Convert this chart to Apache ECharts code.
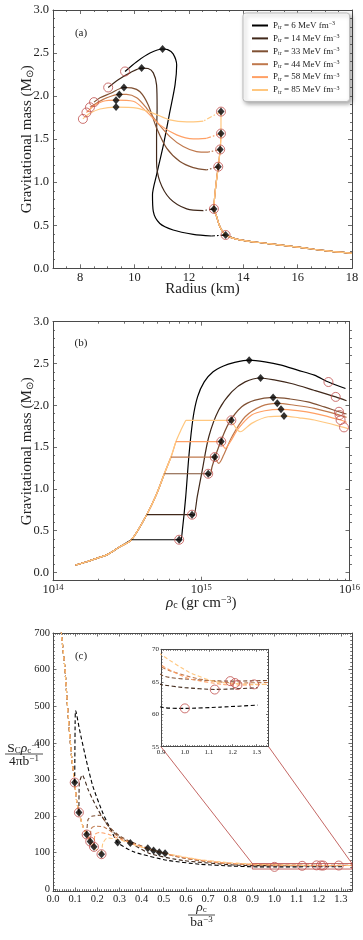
<!DOCTYPE html>
<html><head><meta charset="utf-8">
<script src="https://cdn.jsdelivr.net/npm/echarts@6.0.0/dist/echarts.min.js"></script>
<style>html,body{margin:0;padding:0;background:#fff}#c{width:363px;height:940px}</style>
</head><body><div id="c"></div><script>
// ---------------- DATA ----------------
const ptrValues = [6, 14, 33, 44, 58, 85];

// Panel (a): [radius (km), mass (Msun)]
const aHadronic = [[18.0,0.174],[17.0,0.205],[16.08,0.244],[14.86,0.29],[13.88,0.33],[13.35,0.387],[13.14,0.484],[13.02,0.60],[12.92,0.69],[12.98,0.93],[13.08,1.18],[13.15,1.38],[13.18,1.565],[13.18,1.82]];
const aTrans = [[13.35,0.387],[12.92,0.69],[13.08,1.18],[13.15,1.38],[13.18,1.565],[13.18,1.82]];
const aDip = [[12.83,0.375],[12.53,0.67],[12.65,1.143],[12.71,1.35],[12.65,1.51],[12.53,1.71]];
const aHyb6 = [[12.83,0.375],[12.16,0.395],[11.42,0.445],[10.93,0.52],[10.69,0.66],[10.66,0.85],[10.81,1.085],[11.06,1.43],[11.30,1.82],[11.49,2.13],[11.55,2.36],[11.42,2.49],[11.22,2.54],[11.03,2.547],[10.57,2.50],[10.08,2.40],[9.65,2.286]];
const aHyb14 = [[12.53,0.67],[11.92,0.69],[11.30,0.81],[10.93,1.01],[10.81,1.24],[10.81,1.55],[10.83,1.86],[10.81,2.13],[10.69,2.27],[10.50,2.32],[10.26,2.326],[9.83,2.27],[9.40,2.19],[9.03,2.10]];
const aHyb33 = [[12.65,1.143],[12.16,1.17],[11.67,1.24],[11.18,1.395],[10.81,1.63],[10.50,1.90],[10.20,2.05],[9.89,2.095],[9.61,2.10],[9.10,2.03],[8.73,1.98],[8.51,1.93]];
const aHyb44 = [[12.71,1.35],[12.28,1.356],[11.79,1.414],[11.30,1.53],[10.81,1.705],[10.44,1.86],[10.08,1.98],[9.71,2.02],[9.44,2.02],[8.97,1.98],[8.61,1.92],[8.36,1.87]];
const aHyb58 = [[12.65,1.51],[12.16,1.503],[11.55,1.55],[10.93,1.666],[10.44,1.82],[9.95,1.94],[9.32,1.953],[8.85,1.94],[8.48,1.88],[8.23,1.81]];
const aHyb85 = [[12.53,1.71],[11.92,1.70],[11.30,1.724],[10.69,1.80],[10.08,1.86],[9.32,1.872],[8.73,1.85],[8.36,1.80],[8.10,1.735]];
const aMax = [[11.03,2.547],[10.26,2.326],[9.61,2.10],[9.44,2.02],[9.32,1.953],[9.32,1.872]];
const aEnd = [[9.65,2.286],[9.03,2.10],[8.51,1.93],[8.36,1.87],[8.23,1.81],[8.10,1.735]];

// Panel (b): [log10 rho_c (g cm^-3), mass (Msun)]
const bHadronic = [[14.151,0.087],[14.229,0.127],[14.30,0.17],[14.37,0.215],[14.451,0.307],[14.529,0.39],[14.632,0.69],[14.696,0.925],[14.751,1.18],[14.796,1.38],[14.829,1.565],[14.863,1.703],[14.896,1.82]];
const bTransLow = [[14.529,0.39],[14.632,0.69],[14.751,1.18],[14.796,1.38],[14.829,1.565],[14.896,1.82]];
const bTransHigh = [[14.851,0.39],[14.938,0.69],[15.047,1.18],[15.091,1.38],[15.135,1.565],[15.203,1.82]];
const bHyb6 = [[14.851,0.39],[14.862,0.386],[14.873,0.51],[14.895,0.9],[14.918,1.42],[14.945,1.85],[14.975,2.1],[15.02,2.28],[15.08,2.4],[15.15,2.47],[15.22,2.51],[15.323,2.54],[15.43,2.52],[15.54,2.48],[15.65,2.42],[15.763,2.36],[15.858,2.278],[15.973,2.20]];
const bHyb14 = [[14.938,0.69],[14.95,0.68],[14.973,0.905],[15.007,1.224],[15.051,1.623],[15.118,1.942],[15.207,2.162],[15.296,2.28],[15.40,2.326],[15.5,2.30],[15.607,2.26],[15.76,2.18],[15.907,2.10],[15.98,2.054]];
const bHyb33 = [[15.047,1.18],[15.06,1.16],[15.073,1.264],[15.118,1.503],[15.185,1.783],[15.273,1.982],[15.363,2.062],[15.485,2.094],[15.6,2.075],[15.718,2.04],[15.83,1.98],[15.929,1.922],[15.98,1.895]];
const bHyb44 = [[15.091,1.38],[15.118,1.305],[15.151,1.404],[15.207,1.623],[15.296,1.862],[15.407,1.99],[15.513,2.023],[15.63,2.0],[15.763,1.963],[15.933,1.883],[15.98,1.855]];
const bHyb58 = [[15.135,1.565],[15.162,1.484],[15.196,1.563],[15.251,1.723],[15.34,1.883],[15.429,1.934],[15.538,1.951],[15.65,1.935],[15.763,1.903],[15.94,1.823],[15.98,1.795]];
const bHyb85 = [[15.203,1.82],[15.263,1.683],[15.34,1.783],[15.451,1.862],[15.558,1.871],[15.66,1.85],[15.763,1.823],[15.963,1.735],[15.99,1.72]];
const bMax = [[15.323,2.54],[15.40,2.326],[15.485,2.094],[15.513,2.023],[15.538,1.951],[15.558,1.871]];
const bEnd = [[15.858,2.278],[15.907,2.10],[15.929,1.922],[15.933,1.883],[15.94,1.823],[15.963,1.735]];

// Panel (c): [rho_c / (b a^-3), S_C rho_c^-1 / (4 pi b^-1)]
const cHadronic = [[0.034,760],[0.038,700],[0.053,608],[0.069,472],[0.084,362],[0.098,291.5],[0.107,240],[0.117,209.6],[0.135,172],[0.152,149.4],[0.168,130.3],[0.185,115.6],[0.2,105],[0.219,95.6]];
const cTrans = [[0.098,291.5],[0.117,209.6],[0.152,149.4],[0.168,130.3],[0.185,115.6],[0.219,95.6]];
const cHyb6 = [[0.098,291.5],[0.100,460],[0.102,488],[0.12,435],[0.15,353],[0.18,281],[0.225,208],[0.263,160],[0.292,127.6],[0.364,102],[0.515,79],[0.665,68],[0.815,63],[0.9,61.1],[1.0,60.9],[1.15,61.1],[1.305,61.4]];
const cHyb14 = [[0.117,209.6],[0.119,290],[0.132,312],[0.16,270],[0.195,226],[0.23,190],[0.263,162],[0.30,142],[0.349,126.5],[0.439,97],[0.59,78],[0.815,66],[0.9,64.6],[1.0,64.1],[1.125,63.82],[1.305,64.07]];
const cHyb33 = [[0.152,149.4],[0.158,190],[0.175,199],[0.213,202],[0.25,172],[0.3,146],[0.35,130],[0.428,112],[0.55,90],[0.7,75],[0.9,66.1],[1.05,65.3],[1.19,65.1],[1.35,65.2]];
const cHyb44 = [[0.168,130.3],[0.172,165],[0.19,172],[0.23,170],[0.3,142],[0.35,127],[0.454,105.7],[0.6,84],[0.75,72],[0.9,67.3],[1.05,65.5],[1.21,64.8],[1.35,64.9]];
const cHyb58 = [[0.185,115.6],[0.19,150],[0.21,155],[0.25,150],[0.3,138],[0.38,120],[0.48,101],[0.6,86],[0.75,73],[0.9,67.6],[1.016,65.5],[1.157,64.6],[1.22,64.5],[1.35,64.6]];
const cHyb85 = [[0.219,95.6],[0.225,125],[0.245,140],[0.3,135],[0.38,118],[0.506,98.4],[0.65,82],[0.8,72],[0.9,69.2],[1.016,66.5],[1.129,65.0],[1.29,64.6],[1.35,64.6]];
const cMax = [[0.292,127.6],[0.349,126.5],[0.428,112],[0.454,105.7],[0.48,101],[0.506,98.4]];
const cEnd = [[1.0,60.9],[1.125,63.8],[1.19,65.1],[1.21,64.8],[1.22,64.5],[1.29,64.6]];
// zoom box in (c) and the connectors to the inset's lower corners
const cZoomBox = [[0.9,55],[1.35,55],[1.35,70],[0.9,70],[0.9,55]];
const cConnLeft = [[0.4876,389],[0.9,70]];
const cConnRight = [[0.974,389],[1.35,70]];

// tick values
const aXMajor = [8,10,12,14,16,18];
const aYMajor = [0,0.5,1,1.5,2,2.5,3];
const bXMajorExp = [14,15,16];
const bYMajor = [0,0.5,1,1.5,2,2.5,3];
const cXMajor = [0,0.1,0.2,0.3,0.4,0.5,0.6,0.7,0.8,0.9,1.0,1.1,1.2,1.3];
const cYMajor = [0,100,200,300,400,500,600,700];
const iXMajor = [0.9,1.0,1.1,1.2,1.3];
const iYMajor = [55,60,65,70];

// ---------------- BUILD ----------------
const SERIF = 'Liberation Serif';
const COLORS = ['#000000','#40281a','#7f5033','#bf784c','#ffa065','#ffc77f'];
const RED = '#c0504d';
const FRAME = '#4a4a4a';
const TXT = '#222';
const r6 = v => Math.round(v*1e6)/1e6;
function rangeVals(a, b, step, skip) {
  const out = [];
  for (let v = a; v <= b + 1e-9; v += step) {
    const rv = r6(v);
    if (!skip.some(s => Math.abs(s - rv) < 1e-7)) out.push(rv);
  }
  return out;
}
const bXMinor = [];
[14,15].forEach(e => { for (let k = 2; k <= 9; k++) bXMinor.push(k*Math.pow(10,e)); });

const grids = [], xAxes = [], yAxes = [], series = [];
function addPanel(rect, xc, yc) {
  const g = grids.length;
  grids.push(Object.assign({}, rect));
  grids.push(Object.assign({}, rect));
  [[xc, xAxes, ['bottom','top']], [yc, yAxes, ['left','right']]].forEach(([c, arr, pos]) => {
    [0,1].forEach(minor => {
      pos.forEach((p, k) => {
        const ax = {
          type: c.type || 'value', gridIndex: g + minor, position: p,
          min: c.min, max: c.max,
          axisLine: {show: !minor, onZero: false, lineStyle: {color: FRAME, width: 1}},
          axisTick: {show: true, inside: true, length: minor ? (c.minorLen || 2) : (c.majorLen || 4),
                     customValues: minor ? c.minor : c.major, lineStyle: {color: FRAME, width: 0.8}},
          axisLabel: {show: !minor && k === 0, customValues: c.major, margin: c.margin || 4,
                      fontFamily: SERIF, fontSize: c.fontSize || 12.5, color: TXT, formatter: c.fmt,
                      rich: c.rich, showMinLabel: true, showMaxLabel: true, hideOverlap: false},
          splitLine: {show: false}, minorTick: {show: false},
          silent: true
        };
        if (c.type === 'log') ax.logBase = 10;
        if (!minor && k === 0 && c.name) {
          Object.assign(ax, {name: c.name, nameLocation: 'middle', nameGap: c.nameGap,
            nameRotate: c.nameRotate || 0, nameMoveOverlap: false,
            nameTextStyle: {fontFamily: SERIF, fontSize: 15, color: TXT, rich: c.nameRich}});
        }
        arr.push(ax);
      });
    });
  });
  return g * 2; // index of main bottom x axis / left y axis
}

const nameRich = {
  n: {fontFamily: SERIF, fontSize: 15, color: TXT},
  i: {fontFamily: SERIF, fontSize: 15, fontStyle: 'italic', color: TXT},
  s: {fontFamily: SERIF, fontSize: 10, color: TXT, verticalAlign: 'bottom', lineHeight: 9},
  u: {fontFamily: SERIF, fontSize: 10, color: TXT, verticalAlign: 'top', lineHeight: 9}
};
const massName = '{n|Gravitational mass (M}{s|⊙}{n|)}';

// Panel (a)
const A = addPanel({left: 53, top: 10, width: 299, height: 258.3},
  {min: 7, max: 18, major: aXMajor, minor: rangeVals(7, 18, 0.5, aXMajor), fmt: v => String(v),
   name: '{n|Radius (km)}', nameGap: 13, nameRich, margin: 3},
  {min: 0, max: 3, major: aYMajor, minor: rangeVals(0, 3, 0.1, aYMajor), fmt: v => v.toFixed(1),
   name: massName, nameGap: 18, nameRotate: 90, nameRich});
// Panel (b)
const B = addPanel({left: 53, top: 321.7, width: 299, height: 259},
  {type: 'log', min: 1e14, max: 1e16, major: bXMajorExp.map(e => Math.pow(10, e)), minor: bXMinor,
   fmt: v => '{b|10}{e|' + Math.round(Math.log10(v)) + '}',
   rich: {b: {fontFamily: SERIF, fontSize: 12.5, color: TXT, verticalAlign: 'bottom', lineHeight: 13},
          e: {fontFamily: SERIF, fontSize: 8.5, color: TXT, verticalAlign: 'top', lineHeight: 9}},
   name: '{i|ρ}{s|c}{n| (gr cm}{u|−3}{n|)}', nameGap: 15, nameRich, margin: 3},
  {min: -0.1, max: 3, major: bYMajor, minor: rangeVals(-0.1, 3, 0.1, bYMajor), fmt: v => v.toFixed(1),
   name: massName, nameGap: 18, nameRotate: 90, nameRich});
// Panel (c)
const C = addPanel({left: 53, top: 633, width: 299, height: 258},
  {min: 0, max: 1.35, major: cXMajor, minor: rangeVals(0, 1.35, 0.01, cXMajor), fmt: v => v.toFixed(1),
   fontSize: 10.5, margin: 3, minorLen: 1.8, majorLen: 3.5},
  {min: -5, max: 700, major: cYMajor, minor: rangeVals(0, 700, 10, cYMajor), fmt: v => String(v),
   fontSize: 10.5, margin: 3, minorLen: 1.8, majorLen: 3.5});
// Inset
const I = addPanel({left: 161, top: 649.3, width: 107.5, height: 97.4},
  {min: 0.9, max: 1.35, major: iXMajor, minor: rangeVals(0.9, 1.35, 0.01, iXMajor), fmt: v => v.toFixed(1),
   fontSize: 7, margin: 2, minorLen: 1.5, majorLen: 2.5},
  {min: 55, max: 70, major: iYMajor, minor: rangeVals(55, 70, 0.5, iYMajor), fmt: v => String(v),
   fontSize: 7, margin: 2, minorLen: 1.5, majorLen: 2.5});

function line(ax, data, color, extra) {
  return Object.assign({type: 'line', xAxisIndex: ax, yAxisIndex: ax, data, symbol: 'none', showSymbol: false,
    silent: true, animation: false, clip: true, smooth: 0.3, z: 2,
    lineStyle: {color, width: 1.2}, itemStyle: {color}}, extra || {});
}
function circles(ax, data) {
  return {type: 'scatter', xAxisIndex: ax, yAxisIndex: ax, data, symbol: 'circle', symbolSize: 9,
    itemStyle: {color: 'rgba(255,255,255,0)', borderColor: RED, borderWidth: 1}, z: 5, silent: true, animation: false, clip: true};
}
function diamonds(ax, data) {
  return {type: 'scatter', xAxisIndex: ax, yAxisIndex: ax, data, symbol: 'diamond', symbolSize: [7, 8],
    itemStyle: {color: '#000'}, z: 6, silent: true, animation: false, clip: true};
}
const DASHDOT = [5, 2, 1.5, 2];
const DASH = [4, 2.5];

// ---- (a)
const aHyb = [aHyb6, aHyb14, aHyb33, aHyb44, aHyb58, aHyb85];
ptrValues.forEach((p, i) => {
  const had = aHadronic.filter(pt => pt[1] <= aTrans[i][1] + 1e-9);
  series.push(line(A, had, COLORS[i], {name: 'had_a' + p}));
});
ptrValues.forEach((p, i) => {
  series.push(line(A, [aTrans[i], aDip[i]], COLORS[i], {name: 'un_a' + p, lineStyle: {color: COLORS[i], width: 1.2, type: DASHDOT}}));
  series.push(line(A, aHyb[i], COLORS[i], {name: 'P' + p}));
});
series.push(circles(A, aTrans), diamonds(A, aTrans), diamonds(A, aMax), circles(A, aEnd));

// ---- (b)
const toRho = arr => arr.map(pt => [Math.pow(10, pt[0]), pt[1]]);
const bHyb = [bHyb6, bHyb14, bHyb33, bHyb44, bHyb58, bHyb85];
ptrValues.forEach((p, i) => {
  const had = bHadronic.filter(pt => pt[1] <= bTransLow[i][1] + 1e-9);
  series.push(line(B, toRho(had), COLORS[i], {name: 'had_b' + p}));
});
ptrValues.forEach((p, i) => {
  series.push(line(B, toRho([bTransLow[i], bTransHigh[i]]), COLORS[i], {name: 'jump_b' + p, smooth: false}));
  series.push(line(B, toRho(bHyb[i]), COLORS[i], {name: 'hyb_b' + p}));
});
series.push(circles(B, toRho(bTransHigh)), diamonds(B, toRho(bTransHigh)), diamonds(B, toRho(bMax)), circles(B, toRho(bEnd)));

// ---- (c) + inset
const cHyb = [cHyb6, cHyb14, cHyb33, cHyb44, cHyb58, cHyb85];
[C, I].forEach(ax => {
  ptrValues.forEach((p, i) => {
    const had = cHadronic.filter(pt => pt[0] <= cTrans[i][0] + 1e-9);
    series.push(line(ax, had, COLORS[i], {name: 'had_c' + ax + '_' + p, lineStyle: {color: COLORS[i], width: 1.1, type: DASH}, smooth: 0.2}));
  });
  ptrValues.forEach((p, i) => {
    series.push(line(ax, cHyb[i], COLORS[i], {name: 'hyb_c' + ax + '_' + p, lineStyle: {color: COLORS[i], width: 1.1, type: DASH}, smooth: 0.2}));
  });
});
series.push(circles(C, cTrans), diamonds(C, cTrans), diamonds(C, cMax), circles(C, cEnd), circles(I, cEnd));
['box', cZoomBox, 'l', cConnLeft, 'r', cConnRight].forEach((d, k, arr) => {
  if (k % 2 === 0) series.push(line(C, arr[k + 1], '#b5403c', {name: 'zoom_' + d, smooth: false, clip: false, lineStyle: {color: '#b5403c', width: 0.8}, z: 3}));
});

// ---------------- TEXT ----------------
const fr = {
  n: {fontFamily: SERIF, fontSize: 13.5, fill: TXT, color: TXT},
  i: {fontFamily: SERIF, fontSize: 13.5, fontStyle: 'italic', fill: TXT, color: TXT},
  s: {fontFamily: SERIF, fontSize: 9, fill: TXT, color: TXT, verticalAlign: 'bottom', lineHeight: 8},
  u: {fontFamily: SERIF, fontSize: 9, fill: TXT, color: TXT, verticalAlign: 'top', lineHeight: 8}
};
function gtext(x, y, text, size, extra) {
  return Object.assign({type: 'text', x, y, silent: true,
    style: {text, fontFamily: SERIF, fontSize: size, fill: TXT, align: 'center', verticalAlign: 'middle'}}, extra || {});
}
const graphic = [
  gtext(81, 33, '(a)', 11),
  gtext(81, 343, '(b)', 11),
  gtext(81, 656, '(c)', 11),
  {type: 'text', x: 24, y: 748, silent: true, style: {text: '{n|S}{s|C}{i|ρ}{s|c}{u|−1}', rich: fr, align: 'center', verticalAlign: 'middle'}},
  {type: 'line', silent: true, shape: {x1: 5, y1: 754, x2: 43, y2: 754}, style: {stroke: TXT, lineWidth: 0.8}},
  {type: 'text', x: 24, y: 761, silent: true, style: {text: '{n|4πb}{u|−1}', rich: fr, align: 'center', verticalAlign: 'middle'}},
  {type: 'text', x: 201.5, y: 907, silent: true, style: {text: '{i|ρ}{s|c}', rich: fr, align: 'center', verticalAlign: 'middle'}},
  {type: 'line', silent: true, shape: {x1: 188, y1: 915, x2: 215, y2: 915}, style: {stroke: TXT, lineWidth: 0.8}},
  {type: 'text', x: 201.5, y: 922.5, silent: true, style: {text: '{n|ba}{u|−3}', rich: fr, align: 'center', verticalAlign: 'middle'}}
];

const chart = echarts.init(document.getElementById('c'), null, {renderer: 'canvas'});
chart.setOption({
  animation: false,
  backgroundColor: '#fff',
  grid: grids, xAxis: xAxes, yAxis: yAxes, series, graphic,
  legend: {
    orient: 'vertical', left: 243, top: 13, padding: [7.5, 10, 6.5, 9], itemGap: 2.9,
    itemWidth: 16, itemHeight: 2, icon: 'rect', selectedMode: false,
    backgroundColor: '#fff', borderColor: '#bbb', borderWidth: 1, borderRadius: 3,
    shadowBlur: 4, shadowColor: 'rgba(0,0,0,0.35)', shadowOffsetX: 2, shadowOffsetY: 2,
    data: ptrValues.map(p => 'P' + p),
    formatter: name => '{p|P}{s|tr}{p| = ' + name.slice(1) + ' MeV fm}{u|−3}',
    textStyle: {fontFamily: SERIF, fontSize: 9, color: TXT,
      rich: {p: {fontFamily: SERIF, fontSize: 9, color: TXT, lineHeight: 10},
             s: {fontFamily: SERIF, fontSize: 6, color: TXT, verticalAlign: 'bottom', lineHeight: 6},
             u: {fontFamily: SERIF, fontSize: 6, color: TXT, verticalAlign: 'top', lineHeight: 6}}}
  }
});
</script></body></html>
